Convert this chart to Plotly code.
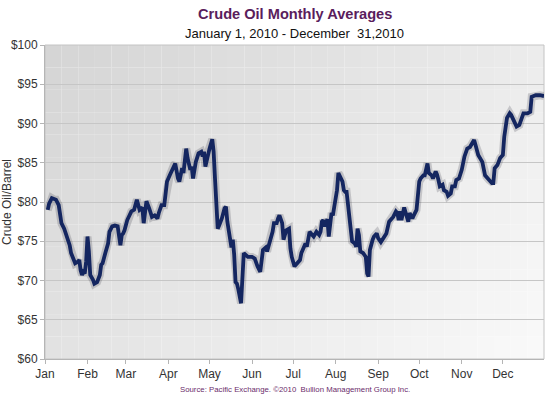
import pandas as pd
import plotly.graph_objects as go

# ---- data ----
day_of_year = [2, 3, 5, 7, 8, 10, 11, 12, 14, 16, 18, 19, 21, 22, 24, 25, 26, 27, 28, 29,
               30, 31, 32, 33, 35, 36, 38, 40, 41, 42, 44, 46, 47, 49, 51, 53, 55, 56, 57, 58,
               60, 62, 63, 65, 67, 69, 71, 72, 74, 76, 78, 80, 82, 83, 85, 87, 89, 91, 94, 95,
               97, 98, 100, 101, 103, 104, 106, 107, 108, 110, 112, 114, 115, 116, 117, 119, 120, 122, 123, 124,
               125, 126, 127, 129, 131, 132, 133, 135, 136, 137, 138, 139, 140, 141, 142, 143, 145, 147, 148, 151,
               153, 155, 156, 157, 159, 161, 162, 164, 166, 167, 169, 170, 171, 173, 174, 176, 178, 179, 180, 182,
               184, 186, 187, 189, 190, 191, 192, 193, 195, 196, 198, 200, 201, 202, 203, 204, 206, 207, 209, 210,
               211, 213, 214, 215, 217, 218, 219, 220, 221, 223, 224, 226, 227, 228, 229, 230, 232, 234, 235, 236,
               237, 239, 240, 242, 243, 245, 247, 249, 251, 252, 254, 256, 257, 258, 259, 260, 262, 264, 265, 266,
               268, 269, 270, 271, 273, 274, 276, 277, 279, 280, 282, 283, 285, 286, 287, 288, 290, 291, 293, 294,
               296, 297, 299, 300, 302, 304, 306, 308, 310, 311, 313, 314, 316, 318, 319, 321, 322, 324, 326, 327,
               328, 330, 332, 334, 335, 337, 339, 340, 342, 344, 346, 347, 349, 352, 354, 355, 358, 361, 364]

price = [79.0, 79.8, 80.5, 80.3, 80.3, 79.6, 77.9, 77.3, 76.6, 75.6, 74.5, 73.5, 72.6, 72.2, 72.4, 72.6, 71.3, 70.7, 71.1, 70.9,
         72.4, 75.6, 73.7, 70.7, 70.1, 69.6, 69.8, 70.7, 72.0, 72.2, 73.5, 74.7, 76.2, 76.9, 77.0, 76.9, 74.5, 75.8, 76.0, 76.4,
         77.7, 78.6, 78.8, 79.0, 80.3, 79.0, 79.3, 77.3, 80.1, 79.2, 78.1, 78.3, 77.9, 78.6, 79.6, 79.6, 82.6, 83.4, 84.7, 84.9,
         83.0, 82.6, 84.3, 83.7, 86.8, 85.6, 84.1, 84.5, 83.0, 85.1, 86.2, 86.4, 85.8, 86.4, 84.5, 86.4, 86.8, 88.0, 86.4, 83.0,
         79.6, 76.6, 77.0, 77.9, 79.2, 79.4, 77.5, 75.4, 74.2, 75.2, 73.3, 69.8, 69.6, 68.9, 68.2, 67.1, 73.5, 73.2, 73.0, 73.0,
         72.8, 71.8, 71.3, 71.1, 73.9, 74.2, 73.7, 74.9, 76.2, 77.3, 77.3, 77.9, 78.3, 77.3, 75.2, 76.4, 76.6, 74.1, 73.0, 71.8,
         72.2, 72.6, 73.5, 74.5, 74.7, 74.3, 75.4, 76.2, 75.8, 75.6, 76.2, 75.8, 76.2, 77.5, 77.7, 76.9, 77.8, 75.6, 78.6, 78.3,
         79.4, 81.5, 83.7, 83.4, 82.6, 81.5, 81.3, 81.3, 79.4, 76.9, 75.0, 74.7, 74.3, 76.6, 75.8, 73.7, 73.5, 73.0, 70.9, 70.5,
         73.9, 75.2, 75.6, 76.0, 75.4, 74.9, 75.4, 76.0, 77.5, 77.7, 78.1, 78.8, 78.6, 77.7, 78.8, 77.7, 79.3, 78.1, 77.5, 78.6,
         77.9, 78.3, 78.8, 79.0, 82.6, 83.0, 83.4, 83.4, 84.9, 83.7, 83.4, 83.0, 83.9, 83.5, 82.8, 82.0, 82.2, 81.5, 81.3, 80.8,
         81.1, 82.0, 82.0, 82.8, 83.0, 84.1, 85.8, 86.8, 87.0, 87.3, 87.9, 87.3, 86.0, 85.4, 85.1, 83.4, 83.2, 82.8, 82.4, 82.4,
         84.3, 84.7, 85.6, 86.0, 88.3, 90.7, 91.3, 91.1, 90.4, 89.6, 89.8, 90.4, 91.3, 91.3, 91.5, 93.4, 93.6, 93.6, 93.5]

month_labels = ["Jan", "Feb", "Mar", "Apr", "May", "Jun", "Jul", "Aug", "Sep", "Oct", "Nov", "Dec"]
month_starts = pd.date_range("2010-01-01", periods=12, freq="MS")
y_ticks = [60, 65, 70, 75, 80, 85, 90, 95, 100]
y_tick_text = ["$" + str(v) for v in y_ticks]

dates = pd.Timestamp("2010-01-01") + pd.to_timedelta(day_of_year, unit="D")

FONT = "Arial, Liberation Sans, sans-serif"

fig = go.Figure()
# soft shadow under the line
fig.add_trace(go.Scatter(x=dates, y=price, mode="lines",
                         line=dict(color="rgba(20,20,40,0.18)", width=8),
                         hoverinfo="skip", showlegend=False))
fig.add_trace(go.Scatter(x=dates, y=price, mode="lines",
                         line=dict(color="#142660", width=3.8),
                         showlegend=False))

# gradient background for the plot area
shapes = []
NX, NY = 30, 14
for i in range(NX):
    for j in range(NY):
        u = (i + 0.5) / NX
        v = (j + 0.5) / NY  # 0 bottom, 1 top
        t = 0.62 * u + 0.38 * (1 - v)
        lum = int(round(212 + 38 * t))
        col = f"rgb({lum},{lum},{lum})"
        shapes.append(dict(type="rect", xref="x domain", yref="y domain",
                           x0=i / NX, x1=(i + 1) / NX, y0=j / NY, y1=(j + 1) / NY,
                           fillcolor=col, line=dict(width=0), layer="below"))
shapes.append(dict(type="rect", xref="x domain", yref="y domain", x0=0, x1=1, y0=0, y1=1,
                   line=dict(color="#c4c4c4", width=1), fillcolor="rgba(0,0,0,0)", layer="below"))

fig.update_layout(
    width=550, height=397,
    margin=dict(l=45, r=6, t=45, b=38, autoexpand=False),
    paper_bgcolor="white",
    plot_bgcolor="white",
    font=dict(family=FONT, size=12, color="#333333"),
    shapes=shapes,
    annotations=[
        dict(text="<b>Crude Oil Monthly Averages</b>", x=0.5, y=1.0987, xref="paper", yref="paper",
             showarrow=False, xanchor="center", yanchor="middle",
             font=dict(family=FONT, size=14.6, color="#5a1d5c")),
        dict(text="January 1, 2010 - December\u00a0 31,2010", x=0.5, y=1.038, xref="paper", yref="paper",
             showarrow=False, xanchor="center", yanchor="middle",
             font=dict(family=FONT, size=13, color="#111111")),
        dict(text="Source: Pacific Exchange. \u00a92010\u00a0 Bullion Management Group Inc.", x=0.5, y=-0.0987,
             xref="paper", yref="paper", showarrow=False, xanchor="center", yanchor="middle",
             font=dict(family=FONT, size=7.8, color="#6b2c6b")),
    ],
)

fig.update_xaxes(
    type="date",
    range=["2010-01-01", "2010-12-31"],
    tickvals=month_starts, ticktext=month_labels,
    showgrid=False, showline=True, linecolor="#b5b5b5", linewidth=1,
    ticks="outside", ticklen=4, tickcolor="#b5b5b5",
    tickfont=dict(family=FONT, size=12, color="#333333"),
    zeroline=False, automargin=False,
)
fig.update_yaxes(
    range=[60, 100],
    tickvals=y_ticks, ticktext=y_tick_text,
    showgrid=True, gridcolor="#c6c6c6", gridwidth=1,
    showline=True, linecolor="#b5b5b5", linewidth=1,
    ticks="outside", ticklen=4, tickcolor="#b5b5b5",
    tickfont=dict(family=FONT, size=12, color="#333333"),
    title=dict(text="Crude Oil/Barrel", font=dict(family=FONT, size=12, color="#333333"), standoff=0),
    zeroline=False, automargin=False,
)

fig.write_html("out.html", config={"displayModeBar": False},
               post_script="document.body.style.margin='0px';")
